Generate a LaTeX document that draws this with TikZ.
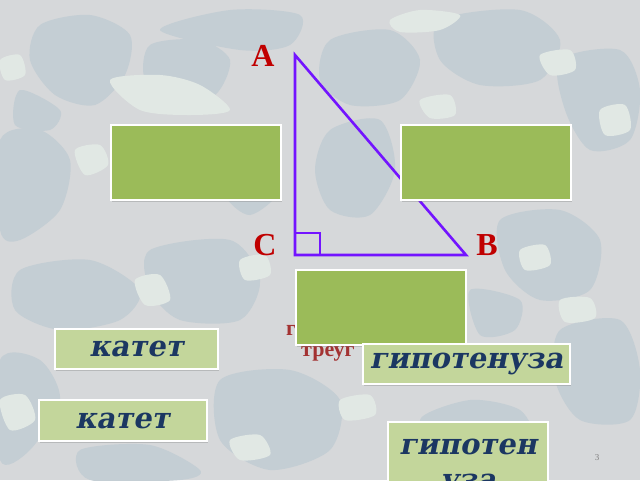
\documentclass[tikz,border=0pt]{standalone}
\usepackage{fontspec}
\setmainfont{Liberation Serif}
\newfontfamily\labfont[BoldFeatures={FakeSlant=0.2}]{DejaVu Serif}
\usetikzlibrary{shadows}
\definecolor{bgbase}{HTML}{D6D8DA}
\definecolor{bgblue}{HTML}{C4CED4}
\definecolor{bgwhite}{HTML}{E1E8E4}
\definecolor{boxgreen}{HTML}{9BBB59}
\definecolor{lightgreen}{HTML}{C3D69B}
\definecolor{navy}{HTML}{1B3762}
\definecolor{vred}{HTML}{C00000}
\definecolor{dred}{HTML}{A33232}
\definecolor{tri}{RGB}{115,20,255}
\begin{document}
\begin{tikzpicture}[x=1pt,y=-1pt,
  greenbox/.style={draw=white, line width=2.5pt, fill=boxgreen, minimum width=170pt, minimum height=75pt, inner sep=0pt,
    drop shadow={opacity=0.35, shadow xshift=1pt, shadow yshift=-1.5pt}},
  labbox/.style={draw=white, line width=2pt, fill=lightgreen, text=navy, inner sep=0pt,
    font=\labfont\bfseries\fontsize{29}{35}\selectfont,
    drop shadow={opacity=0.35, shadow xshift=1pt, shadow yshift=-1.5pt}},
  vlabel/.style={text=vred, font=\bfseries\fontsize{32}{34}\selectfont, inner sep=0pt},
  hidtext/.style={text=dred, font=\bfseries\fontsize{22}{24}\selectfont, inner sep=0pt, anchor=base west},
  blobb/.style={fill=bgblue},
  blobw/.style={fill=bgwhite}]
\useasboundingbox (0,0) rectangle (640,480);
\clip (0,0) rectangle (640,480);
\fill[bgbase] (0,0) rectangle (640,480);
% camouflage background
\fill[blobb] plot[smooth cycle] coordinates {(40,25) (90,15) (130,35) (125,75) (95,105) (55,95) (30,60)};
\fill[blobb] plot[smooth cycle] coordinates {(150,45) (200,40) (230,60) (215,95) (175,100) (145,80)};
\fill[blobb] plot[smooth cycle] coordinates {(0,140) (40,130) (70,160) (60,210) (20,240) (0,230)};
\fill[blobb] plot[smooth cycle] coordinates {(160,30) (230,10) (300,15) (290,45) (240,50)};
\fill[blobb] plot[smooth cycle] coordinates {(330,40) (390,30) (420,60) (400,100) (350,105) (320,80)};
\fill[blobb] plot[smooth cycle] coordinates {(440,20) (520,10) (560,40) (540,80) (480,85) (440,60)};
\fill[blobb] plot[smooth cycle] coordinates {(560,60) (620,50) (640,90) (630,140) (590,150) (565,110)};
\fill[blobb] plot[smooth cycle] coordinates {(330,130) (380,120) (395,170) (370,215) (330,210) (315,170)};
\fill[blobb] plot[smooth cycle] coordinates {(500,220) (560,210) (600,240) (590,290) (540,300) (505,270)};
\fill[blobb] plot[smooth cycle] coordinates {(20,270) (90,260) (140,290) (120,320) (60,330) (15,310)};
\fill[blobb] plot[smooth cycle] coordinates {(150,250) (230,240) (260,280) (240,320) (180,320) (150,290)};
\fill[blobb] plot[smooth cycle] coordinates {(0,360) (40,360) (60,400) (30,450) (0,460)};
\fill[blobb] plot[smooth cycle] coordinates {(220,380) (290,370) (340,400) (330,450) (270,470) (220,440)};
\fill[blobb] plot[smooth cycle] coordinates {(80,450) (150,445) (200,470) (180,480) (90,480)};
\fill[blobb] plot[smooth cycle] coordinates {(560,330) (620,320) (640,370) (630,420) (580,420) (555,380)};
\fill[blobb] plot[smooth cycle] coordinates {(470,290) (520,300) (515,330) (480,335)};
\fill[blobb] plot[smooth cycle] coordinates {(20,90) (60,110) (50,130) (15,125)};
\fill[blobb] plot[smooth cycle] coordinates {(230,160) (270,150) (280,190) (250,215) (225,195)};
\fill[blobb] plot[smooth cycle] coordinates {(420,420) (470,400) (520,410) (530,440) (470,450)};
\fill[blobw] plot[smooth cycle] coordinates {(110,80) (160,75) (200,85) (230,110) (190,115) (140,110)};
\fill[blobw] plot[smooth cycle] coordinates {(75,150) (100,145) (108,165) (85,175)};
\fill[blobw] plot[smooth cycle] coordinates {(0,60) (20,55) (25,75) (5,80)};
\fill[blobw] plot[smooth cycle] coordinates {(390,20) (420,10) (460,15) (440,30) (400,32)};
\fill[blobw] plot[smooth cycle] coordinates {(540,55) (570,50) (575,70) (550,75)};
\fill[blobw] plot[smooth cycle] coordinates {(600,110) (625,105) (630,130) (605,135)};
\fill[blobw] plot[smooth cycle] coordinates {(420,100) (450,95) (455,115) (430,118)};
\fill[blobw] plot[smooth cycle] coordinates {(240,260) (265,255) (270,275) (245,280)};
\fill[blobw] plot[smooth cycle] coordinates {(135,280) (160,275) (170,300) (145,305)};
\fill[blobw] plot[smooth cycle] coordinates {(0,400) (25,395) (35,420) (10,430)};
\fill[blobw] plot[smooth cycle] coordinates {(230,440) (260,435) (270,455) (240,460)};
\fill[blobw] plot[smooth cycle] coordinates {(520,250) (545,245) (550,265) (525,270)};
\fill[blobw] plot[smooth cycle] coordinates {(560,300) (590,298) (595,318) (565,322)};
\fill[blobw] plot[smooth cycle] coordinates {(340,400) (370,395) (375,415) (345,420)};
% hidden text behind boxes
\node[hidtext] (t1) at (286,335) {г};
\node[hidtext] (t2) at (301,356) {треуг};
% triangle
\coordinate (A) at (295,55);
\coordinate (C) at (295,255);
\coordinate (B) at (466,255);
\coordinate (R1) at (320,255);
\coordinate (R2) at (320,233);
\coordinate (R3) at (295,233);
\draw[tri, line width=2.6pt, line join=miter] (A) -- (C) -- (B) -- cycle;
\draw[tri, line width=2pt] (R3) -- (R2) -- (R1);
\node[vlabel] (lA) at (263,56) {A};
\node[vlabel] (lC) at (265,245) {C};
\node[vlabel] (lB) at (487,245) {B};
% green empty boxes
\node[greenbox] (g1) at (196,162.5) {};
\node[greenbox] (g2) at (486,162.5) {};
\node[greenbox] (g3) at (381,307.5) {};
% word boxes
\node[labbox, minimum width=163pt, minimum height=40pt] (k1) at (136.5,349) {катет};
\node[labbox, minimum width=207pt, minimum height=40pt] (h1) at (466.5,364) {гипотенуза};
\node[labbox, minimum width=168pt, minimum height=41pt] (k2) at (122.5,420.5) {катет};
\node[labbox, minimum width=160pt, minimum height=90pt, anchor=north, align=center, inner ysep=14pt] (h2) at (468,421) {гипотен\\уза};
\node[text=gray, font=\fontsize{9}{10}\selectfont] (pn) at (597,458) {3};
\end{tikzpicture}
\end{document}
